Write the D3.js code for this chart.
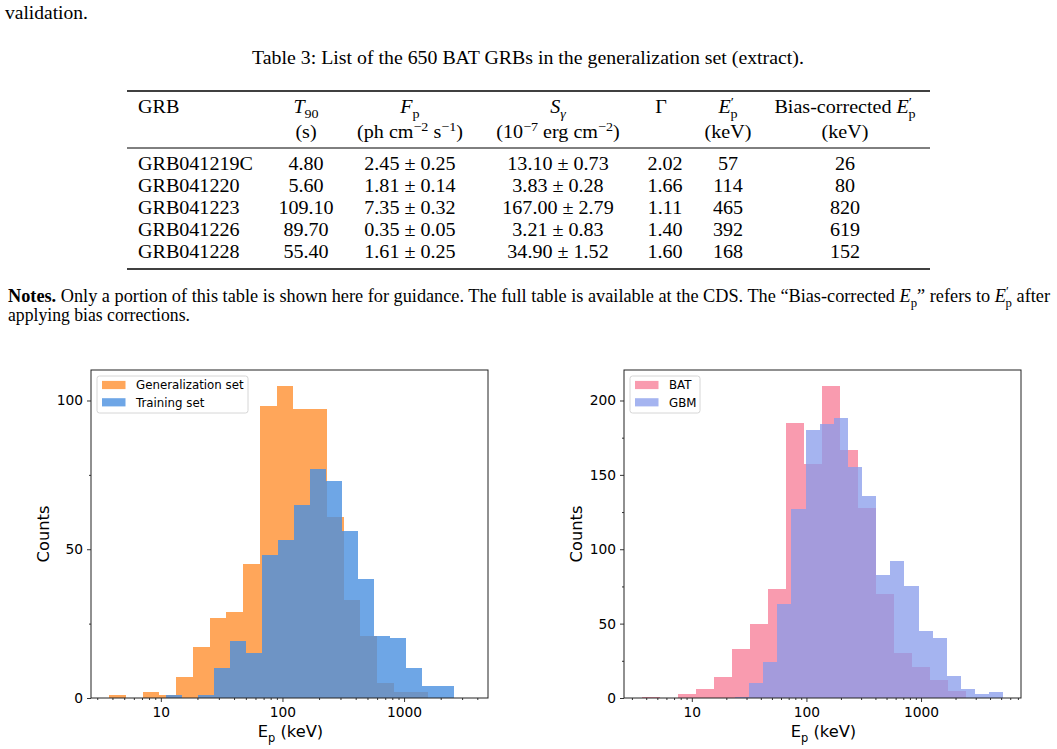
<!DOCTYPE html>
<html>
<head>
<meta charset="utf-8">
<script src="https://cdn.jsdelivr.net/npm/d3@7"></script>
<style>
  body { margin: 0; background: #fff; }
  svg { display: block; }
</style>
</head>
<body>
<svg id="page" width="1057" height="749"></svg>
<script>
// table extract
const grbNames = ["GRB041219C", "GRB041220", "GRB041223", "GRB041226", "GRB041228"];
const t90 = ["4.80", "5.60", "109.10", "89.70", "55.40"];
const fpVal = ["2.45", "1.81", "7.35", "0.35", "1.61"];
const fpErr = ["0.25", "0.14", "0.32", "0.05", "0.25"];
const sgVal = ["13.10", "3.83", "167.00", "3.21", "34.90"];
const sgErr = ["0.73", "0.28", "2.79", "0.83", "1.52"];
const gammaIdx = ["2.02", "1.66", "1.11", "1.40", "1.60"];
const epPrime = [57, 114, 465, 392, 168];
const epBias = [26, 80, 820, 619, 152];

// histogram bins (keV) and counts
const genEdges = [3.75, 5.15, 7.07, 9.72, 13.35, 18.3, 25.2, 34.6, 47.5, 65.3, 89.6, 123, 169, 232, 319, 438, 602, 827, 1136, 1560];
const genCounts = [1, 0, 2, 1, 7, 17, 27, 29, 45, 98, 105, 97, 97, 61, 33, 21, 5, 2, 2];
const trainEdges = [11.0, 14.9, 20.2, 27.3, 36.9, 50.0, 67.7, 91.7, 124, 168, 228, 308, 417, 565, 765, 1036, 1402, 1898, 2570, 3482];
const trainCounts = [1, 0, 1, 10, 19, 15, 48, 53, 65, 77, 73, 56, 40, 21, 20, 10, 4, 4, 0];
const batEdges = [3.70, 5.32, 7.63, 10.96, 15.74, 22.6, 32.4, 46.6, 66.9, 96.0, 137.8, 197.8, 284, 408, 585, 840, 1206, 1732, 2486];
const batCounts = [1, 0, 3, 6, 14, 33, 50, 73, 185, 157, 210, 167, 128, 70, 30, 21, 12, 5];
const gbmEdges = [23.7, 31.5, 41.9, 55.7, 73.9, 98.2, 130.5, 173.3, 230.2, 305.9, 406.3, 539.8, 717.1, 952.4, 1265, 1681, 2233, 2966, 3940, 5234];
const gbmCounts = [1, 10, 24, 63, 127, 180, 184, 188, 155, 136, 83, 92, 75, 45, 40, 15, 6, 3, 4];

const xMajorTicks = [10, 100, 1000];
const leftYTicks = [0, 50, 100];
const leftYMinor = [25, 75];
const rightYTicks = [0, 50, 100, 150, 200];
const rightYMinor = [25, 75, 125, 175];

const SERIF = "'Liberation Serif', 'Times New Roman', serif";
const SANS = "'DejaVu Sans', sans-serif";

const svg = d3.select("#page");
svg.append("rect").attr("width", 1057).attr("height", 749).attr("fill", "#fff");

// rich text: parts are strings or {t, it, sub, sup, b, dx}
function rich(sel, parts, fs) {
  let shift = 0;
  parts.forEach((p) => {
    const o = typeof p === "string" ? { t: p } : p;
    const ts = sel.append("tspan").text(o.t);
    let target = 0;
    if (o.sub) target = fs * 0.28;
    if (o.sup) target = -fs * 0.4;
    if (target !== shift) ts.attr("dy", target - shift);
    shift = target;
    if (o.sub || o.sup) ts.attr("font-size", fs * 0.7);
    if (o.it) ts.attr("font-style", "italic");
    if (o.b) ts.attr("font-weight", "bold");
    if (o.dx) ts.attr("dx", o.dx);
  });
  return sel;
}

// stretch a text horizontally around its anchor x
function stretch(sel, ax, k) {
  sel.attr("transform", `translate(${ax},0) scale(${k},1) translate(${-ax},0)`);
}
function fitWidth(sel, ax, target) {
  const w = sel.node().getBBox().width;
  stretch(sel, ax, target / w);
}

// region page text
const FS = 18;
const valid = svg.append("text").attr("x", 5).attr("y", 19)
  .attr("font-family", SERIF).attr("font-size", FS).text("validation.");
fitWidth(valid, 5, 83);

const caption = svg.append("text").attr("x", 528).attr("y", 64)
  .attr("text-anchor", "middle").attr("font-family", SERIF).attr("font-size", FS)
  .text("Table 3: List of the 650 BAT GRBs in the generalization set (extract).");
fitWidth(caption, 528, 552);

const notes1 = svg.append("text").attr("x", 8).attr("y", 302)
  .attr("font-family", SERIF).attr("font-size", FS);
rich(notes1, [
  { t: "Notes.", b: true },
  " Only a portion of this table is shown here for guidance. The full table is available at the CDS. The \u201cBias-corrected ",
  { t: "E", it: true }, { t: "p", sub: true },
  "\u201d refers to ",
  { t: "E", it: true }, { t: "\u2032", sup: true }, { t: "p", sub: true, dx: -3 },
  " after",
], FS);
fitWidth(notes1, 8, 1043);

const notes2 = svg.append("text").attr("x", 8).attr("y", 321)
  .attr("font-family", SERIF).attr("font-size", FS).text("applying bias corrections.");
fitWidth(notes2, 8, 182);
// endregion

// region table
const TFS = 18;
const table = svg.append("g").attr("font-family", SERIF).attr("font-size", TFS).attr("fill", "#000");
// measure horizontal stretch of the table font once
const probe = table.append("text").attr("x", 0).attr("y", -50).text(grbNames[0]);
const tk = 115 / probe.node().getBBox().width;
probe.remove();

function cell(x, y, parts, anchor) {
  const t = table.append("text").attr("x", x).attr("y", y).attr("text-anchor", anchor || "middle");
  rich(t, parts, TFS);
  stretch(t, x, tk);
  return t;
}

table.append("line").attr("x1", 127).attr("x2", 930).attr("y1", 91).attr("y2", 91)
  .attr("stroke", "#000").attr("stroke-width", 1.6);
table.append("line").attr("x1", 127).attr("x2", 930).attr("y1", 148).attr("y2", 148)
  .attr("stroke", "#000").attr("stroke-width", 1);
table.append("line").attr("x1", 127).attr("x2", 930).attr("y1", 269).attr("y2", 269)
  .attr("stroke", "#000").attr("stroke-width", 1.6);

const colX = { grb: 138, t90: 306, fp: 410, sg: 558, gam: 665, ep: 728, bias: 845 };
const h1 = 113, h2 = 138;
cell(colX.grb, h1, ["GRB"], "start");
cell(colX.t90, h1, [{ t: "T", it: true }, { t: "90", sub: true }]);
cell(colX.t90, h2, ["(s)"]);
cell(colX.fp, h1, [{ t: "F", it: true }, { t: "p", sub: true }]);
cell(colX.fp, h2, ["(ph cm", { t: "\u22122", sup: true }, " s", { t: "\u22121", sup: true }, ")"]);
cell(colX.sg, h1, [{ t: "S", it: true }, { t: "\u03b3", sub: true, it: true }]);
cell(colX.sg, h2, ["(10", { t: "\u22127", sup: true }, " erg cm", { t: "\u22122", sup: true }, ")"]);
cell(colX.gam - 4, h1, ["\u0393"]);
cell(colX.ep, h1, [{ t: "E", it: true }, { t: "\u2032", sup: true }, { t: "p", sub: true, dx: -3 }]);
cell(colX.ep, h2, ["(keV)"]);
cell(colX.bias, h1, ["Bias-corrected ", { t: "E", it: true }, { t: "\u2032", sup: true }, { t: "p", sub: true, dx: -3 }]);
cell(colX.bias, h2, ["(keV)"]);

grbNames.forEach((name, i) => {
  const y = 170 + i * 22;
  cell(colX.grb, y, [name], "start");
  cell(colX.t90, y, [t90[i]]);
  cell(colX.fp, y, [`${fpVal[i]} \u00b1 ${fpErr[i]}`]);
  cell(colX.sg, y, [`${sgVal[i]} \u00b1 ${sgErr[i]}`]);
  cell(colX.gam, y, [gammaIdx[i]]);
  cell(colX.ep, y, [String(epPrime[i])]);
  cell(colX.bias, y, [String(epBias[i])]);
});
// endregion

// region histograms
function drawPanel(o) {
  const x = d3.scaleLog().domain(o.xDomain).range([o.left, o.right]);
  const y = d3.scaleLinear().domain([0, o.yMax]).range([o.bottom, o.top]);
  const g = svg.append("g");
  const clipId = "clip" + o.left;
  g.append("clipPath").attr("id", clipId).append("rect")
    .attr("x", o.left).attr("y", o.top).attr("width", o.right - o.left).attr("height", o.bottom - o.top);
  const bars = g.append("g").attr("clip-path", `url(#${clipId})`).attr("shape-rendering", "crispEdges");

  o.series.forEach((s) => {
    bars.append("g").selectAll("rect").data(s.counts).join("rect")
      .attr("x", (d, i) => x(s.edges[i]))
      .attr("width", (d, i) => x(s.edges[i + 1]) - x(s.edges[i]))
      .attr("y", (d) => y(d))
      .attr("height", (d) => y(0) - y(d))
      .attr("fill", s.color)
      .attr("fill-opacity", s.opacity);
  });

  // x axis: minor then major
  const minorX = x.ticks().filter((v) => !xMajorTicks.includes(v) && v >= o.xDomain[0] && v <= o.xDomain[1]);
  const gx = g.append("g").attr("transform", `translate(0,${o.bottom})`);
  gx.append("g").call(d3.axisBottom(x).tickValues(minorX).tickSize(2).tickFormat(""));
  gx.append("g").call(d3.axisBottom(x).tickValues(xMajorTicks).tickSize(4).tickPadding(5).tickFormat(d3.format("d")));

  const gy = g.append("g").attr("transform", `translate(${o.left},0)`);
  gy.append("g").call(d3.axisLeft(y).tickValues(o.yMinor).tickSize(2).tickFormat(""));
  gy.append("g").call(d3.axisLeft(y).tickValues(o.yTicks).tickSize(4).tickPadding(4).tickFormat(d3.format("d")));

  g.selectAll(".domain").remove();
  g.selectAll(".tick line").attr("stroke", "#000").attr("stroke-width", 0.8);
  g.selectAll(".tick text").attr("font-family", SANS).attr("font-size", 13.8).attr("fill", "#000");

  // spines
  g.append("rect").attr("x", o.left).attr("y", o.top)
    .attr("width", o.right - o.left).attr("height", o.bottom - o.top)
    .attr("fill", "none").attr("stroke", "#222").attr("stroke-width", 1);

  // axis labels
  g.append("text")
    .attr("transform", `translate(${o.left - 48},${(o.top + o.bottom) / 2}) rotate(-90)`)
    .attr("text-anchor", "middle").attr("dy", "0.35em")
    .attr("font-family", SANS).attr("font-size", 16.3).text("Counts");
  const xl = g.append("text").attr("x", (o.left + o.right) / 2 + 1).attr("y", 737)
    .attr("text-anchor", "middle").attr("font-family", SANS).attr("font-size", 16.3);
  rich(xl, ["E", { t: "p", sub: true }, " (keV)"], 16.3);

  // legend
  const lg = g.append("g");
  lg.append("rect").attr("x", o.left + 6).attr("y", 376).attr("width", o.legendWidth).attr("height", 37)
    .attr("rx", 2.5).attr("fill", "#fff").attr("fill-opacity", 0.8)
    .attr("stroke", "#d6d6d6").attr("stroke-width", 1);
  o.series.forEach((s, i) => {
    const cy = 385 + i * 17.3;
    lg.append("rect").attr("x", o.left + 11).attr("y", cy - 4.1).attr("width", 23.5).attr("height", 8.2)
      .attr("fill", s.color).attr("fill-opacity", s.opacity);
    lg.append("text").attr("x", o.left + 45).attr("y", cy).attr("dy", "0.36em")
      .attr("font-family", SANS).attr("font-size", 11.8).text(s.name);
  });
}

drawPanel({
  left: 91, right: 488, top: 370, bottom: 698,
  xDomain: [2.666, 4898], yMax: 110.25,
  yTicks: leftYTicks, yMinor: leftYMinor, legendWidth: 151,
  series: [
    { name: "Generalization set", edges: genEdges, counts: genCounts, color: "#ffa65a", opacity: 1 },
    { name: "Training set", edges: trainEdges, counts: trainCounts, color: "#4a90e0", opacity: 0.8 },
  ],
});

drawPanel({
  left: 624, right: 1021, top: 370, bottom: 698,
  xDomain: [2.56, 7450], yMax: 220.5,
  yTicks: rightYTicks, yMinor: rightYMinor, legendWidth: 70,
  series: [
    { name: "BAT", edges: batEdges, counts: batCounts, color: "#f99baf", opacity: 1 },
    { name: "GBM", edges: gbmEdges, counts: gbmCounts, color: "#879beb", opacity: 0.75 },
  ],
});
// endregion
</script>
</body>
</html>
